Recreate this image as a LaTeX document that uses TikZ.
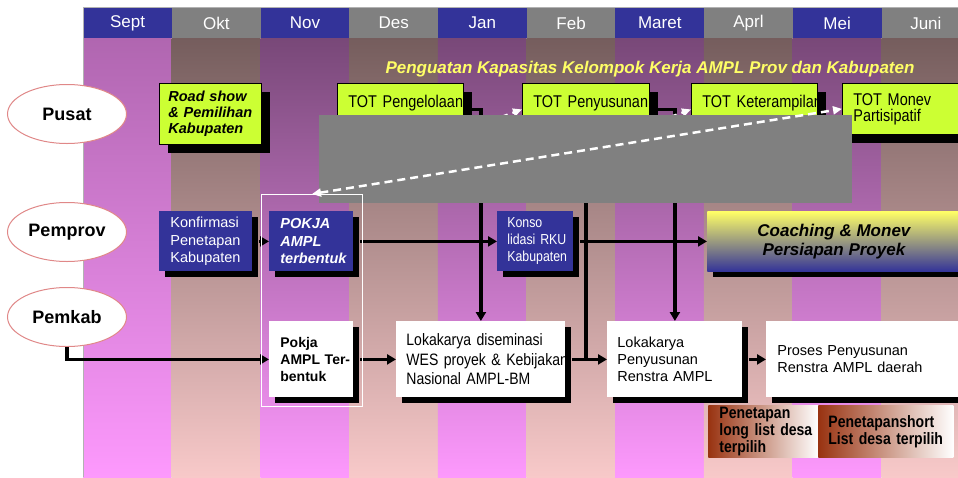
\documentclass[tikz,border=0pt]{standalone}
\usepackage{fontspec}
\setmainfont{Liberation Sans}
\newfontfamily\narrowfont[FakeStretch=0.85]{Liberation Sans}
\usetikzlibrary{shapes.geometric,shadows,arrows.meta}

\definecolor{monthblue}{HTML}{333399}
\definecolor{monthgrey}{HTML}{808080}
\definecolor{lime}{HTML}{CCFF33}
\definecolor{titleyellow}{HTML}{FFFF66}
\definecolor{rust}{HTML}{993311}
\definecolor{levelred}{HTML}{E08888}
\definecolor{odtop}{HTML}{784878}
\definecolor{odmid}{HTML}{D27ED2}
\definecolor{odbot}{HTML}{FD99FD}
\definecolor{evtop}{HTML}{755D5D}
\definecolor{evmid}{HTML}{C8A0A0}
\definecolor{evbot}{HTML}{F8C9C9}
\definecolor{septtop}{HTML}{B066B0}
\definecolor{septmid}{HTML}{E286E2}

\hyphenpenalty=10000
\exhyphenpenalty=10000

\tikzset{
  month/.style={anchor=north west, minimum width=88.7pt, minimum height=30pt, inner sep=0pt, text=white, font=\fontsize{17}{20}\selectfont},
  level/.style={ellipse, draw=levelred, line width=1pt, fill=white, minimum width=119pt, minimum height=59pt, font=\fontsize{18}{20}\selectfont\bfseries},
  card/.style={anchor=north west, align=left, inner ysep=0pt, line width=0.8pt},
  shadowbig/.style={general shadow={fill=black, shadow xshift=9pt, shadow yshift=-9pt}},
  shadowsmall/.style={general shadow={fill=black, shadow xshift=6pt, shadow yshift=-6pt}},
  totbox/.style={card, shadowbig, fill=lime, draw=black, inner xsep=11pt, minimum height=52pt, font=\narrowfont\fontsize{17}{16}\selectfont},
  provbox/.style={card, shadowsmall, fill=monthblue, text=white, minimum height=60pt},
  kabbox/.style={card, shadowsmall, fill=white, minimum height=76pt},
  listbox/.style={card, left color=rust, right color=white, minimum height=52pt, font=\narrowfont\bfseries\fontsize{16.5}{17}\selectfont},
  flow/.style={line width=3.5pt, -{Triangle[length=9pt,width=10pt]}},
  link/.style={line width=3.5pt},
  dashflow/.style={white, line width=2.5pt, dash pattern=on 8pt off 5pt},
  whitetip/.style={-{Triangle[length=9pt,width=8pt]}},
  bothtips/.style={{Triangle[length=9pt,width=8pt]}-{Triangle[length=9pt,width=8pt]}}
}

\begin{document}
\begin{tikzpicture}[x=1pt, y=-1pt]
\useasboundingbox (0,0) rectangle (958,477);
\clip (0,0) rectangle (958,477);
\fill[white] (0,0) rectangle (958,477);

% month columns
\foreach \m [count=\i from 0] in {Sept,Okt,Nov,Des,Jan,Feb,Maret,Aprl,Mei,Juni}{
  \pgfmathsetmacro{\xa}{83+88.7*\i}
  \ifodd\i
    \def\ct{evtop}\def\cm{evmid}\def\cb{evbot}\def\hc{monthgrey}
  \else
    \def\ct{odtop}\def\cm{odmid}\def\cb{odbot}\def\hc{monthblue}
  \fi
  \ifnum\i=0 \def\ct{septtop}\def\cm{septmid}\fi
  \shade[top color=\ct, middle color=\cm, bottom color=\cb] (\xa,38) rectangle ++(88.7,439);
  \node[month, fill=\hc] (m\i) at (\xa,8) {\m};
}
\draw[gray!60, line width=0.8pt] (83,477) -- (83,7) -- (958,7);

% levels
\node[level] (pusat) at (67,114) {Pusat};
\node[level] (pemprov) at (67,232) {Pemprov};
\node[level] (pemkab) at (67,317) {Pemkab};

\node[text=titleyellow, font=\fontsize{17}{20}\selectfont\bfseries\itshape] (judul) at (650,69) {Penguatan Kapasitas Kelompok Kerja AMPL Prov dan Kabupaten};

% pusat
\node[totbox, text width=84pt, inner xsep=9pt, minimum height=61pt, font=\fontsize{14.5}{16}\selectfont\bfseries\itshape] (roadshow) at (159,83) {Road show\\ \& Pemilihan\\ Kabupaten};
\node[totbox, text width=104pt] (tot1) at (337,83) {TOT~Pengelolaan\\~};
\node[totbox, text width=105pt] (tot2) at (522,83) {TOT~Penyusunan\\~};
\node[totbox, text width=104pt] (tot3) at (691,83) {TOT~Keterampilan\\~};
\node[totbox, text width=110pt, minimum height=51pt] (monev) at (842,83) {TOT Monev\\Partisipatif};

% pemprov
\node[provbox, text width=71pt, inner xsep=11pt, font=\fontsize{14.5}{17.5}\selectfont] (konf) at (159,211) {Konfirmasi\\Penetapan\\Kabupaten};
\node[provbox, text width=62pt, inner xsep=11pt, font=\fontsize{14.5}{17.5}\selectfont\bfseries\itshape] (pokjaprov) at (269,211) {POKJA\\AMPL\\terbentuk};
\node[provbox, text width=56pt, inner xsep=10pt, font=\narrowfont\fontsize{14.5}{17}\selectfont] (konso) at (497,211) {Konso\\lidasi~RKU\\Kabupaten};
\node[card, shadowsmall, align=center, minimum width=253pt, minimum height=60pt, top color=titleyellow, middle color=titleyellow!85!monthblue, bottom color=monthblue, font=\fontsize{17}{19.5}\selectfont\bfseries\itshape] (coach) at (707,211) {Coaching \& Monev\\Persiapan Proyek};

% pemkab
\node[kabbox, text width=62pt, inner xsep=11pt, font=\fontsize{14}{17}\selectfont\bfseries] (pokjakab) at (269,321) {Pokja\\AMPL~Ter-\\bentuk};
\node[kabbox, text width=149pt, inner xsep=10pt, font=\narrowfont\fontsize{16.5}{19.5}\selectfont] (disem) at (396,321) {Lokakarya diseminasi\\WES~proyek~\&~Kebijakan\\Nasional AMPL-BM};
\node[kabbox, text width=115pt, inner xsep=10pt, font=\fontsize{14.5}{17}\selectfont] (penyus) at (607,321) {Lokakarya\\Penyusunan\\Renstra AMPL};
\node[kabbox, text width=178pt, inner xsep=11pt, font=\fontsize{14.5}{17}\selectfont] (proses) at (766,321) {Proses Penyusunan\\Renstra AMPL daerah};
\node[listbox, text width=88pt, inner xsep=11pt] (pen1) at (708,405) {Penetapan\\long~list~desa\\terpilih};
\node[listbox, text width=115pt, inner xsep=10pt] (pen2) at (818,405) {Penetapanshort\\List desa terpilih};

% connectors
\draw[flow] ([xshift=6pt]konf.east) -- (pokjaprov.west);
\draw[flow] ([xshift=6pt]pokjaprov.east) -- (konso.west);
\draw[flow] ([xshift=6pt]konso.east) -- (coach.west);
\draw[flow] (pemkab.south) |- (pokjakab.west);
\draw[flow] ([xshift=6pt]pokjakab.east) -- (disem.west);
\draw[flow] ([xshift=6pt]disem.east) -- (penyus.west);
\draw[flow] ([xshift=6pt]penyus.east) -- (proses.west);
\draw[flow] (tot1.east) -| (disem.north);
\draw[flow] (tot2.east) -| (penyus.north);
\draw[link] (tot2.south) -- (tot2.south |- disem.east);

\coordinate (d1) at (488,122);
\coordinate (d2) at (657,122);
\draw[dashflow, whitetip] (d1) -- (tot2.west);
\draw[dashflow, whitetip] (d2) -- (tot3.west);

\fill[monthgrey] (319,115) rectangle (852,203);

\node[draw=white, line width=1pt, anchor=north west, inner sep=0pt, minimum width=101pt, minimum height=212pt] (pokjaframe) at (261,194) {};
\draw[dashflow, bothtips] (pokjaframe.north) -- (monev.west);
\end{tikzpicture}
\end{document}
